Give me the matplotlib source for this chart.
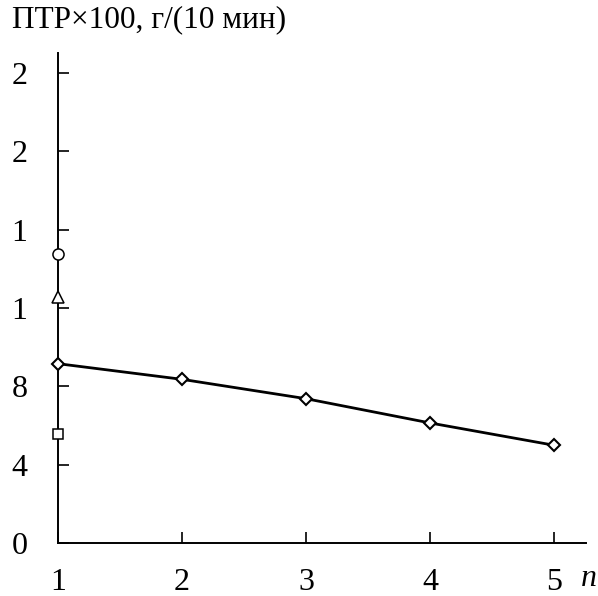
import matplotlib
matplotlib.use("Agg")
import matplotlib.pyplot as plt

plt.rcParams['font.family'] = ['Liberation Serif', 'DejaVu Serif']

# Data
n_values = [1, 2, 3, 4, 5]
ptr_values = [9.16, 8.36, 7.37, 6.13, 4.99]
circle_point = (1, 14.78)
triangle_point = (1, 12.56)
square_point = (1, 5.59)

y_ticks = [0, 4, 8, 12, 16, 20, 24]
y_ticklabels = ["0", "4", "8", "1", "1", "2", "2"]
x_ticks = [1, 2, 3, 4, 5]
x_ticklabels = ["1", "2", "3", "4", "5"]

W, H = 598, 596
fig = plt.figure(figsize=(W / 100, H / 100), dpi=100)
ax = fig.add_axes([58 / W, 1 - 543 / H, (586 - 58) / W, (543 - 53) / H])

ax.set_xlim(1, 5.255)
ax.set_ylim(0, 25.03)

for s in ['top', 'right']:
    ax.spines[s].set_visible(False)
for s in ['left', 'bottom']:
    ax.spines[s].set_linewidth(1.4)

ax.plot(n_values, ptr_values, color='black', lw=2.0, marker='D', markersize=6.5,
        markerfacecolor='white', markeredgecolor='black', markeredgewidth=1.5,
        clip_on=False, zorder=5)
ax.plot([circle_point[0]], [circle_point[1]], marker='o', markersize=8,
        markerfacecolor='white', markeredgecolor='black', markeredgewidth=1.1,
        clip_on=False, zorder=5, ls='none')
ax.plot([triangle_point[0]], [triangle_point[1]], marker='^', markersize=8.5,
        markerfacecolor='white', markeredgecolor='black', markeredgewidth=1.1,
        clip_on=False, zorder=5, ls='none')
ax.plot([square_point[0]], [square_point[1]], marker='s', markersize=6.5,
        markerfacecolor='white', markeredgecolor='black', markeredgewidth=1.1,
        clip_on=False, zorder=5, ls='none')

ax.set_yticks(y_ticks)
ax.set_yticklabels(y_ticklabels)
ax.set_xticks(x_ticks)
ax.set_xticklabels(x_ticklabels)
ax.tick_params(axis='y', direction='in', length=8, width=1.2, pad=22, labelsize=23)
ax.tick_params(axis='x', direction='in', length=8, width=1.2, pad=18, labelsize=23)

fig.text(12 / W, 1 - 20 / H, "ПТР×100, г/(10 мин)", fontsize=22.5, ha='left', va='center')
fig.text(597 / W, 1 - 578 / H, "n", fontsize=23, style='italic', ha='right', va='center')

fig.savefig("out.png", dpi=100)
